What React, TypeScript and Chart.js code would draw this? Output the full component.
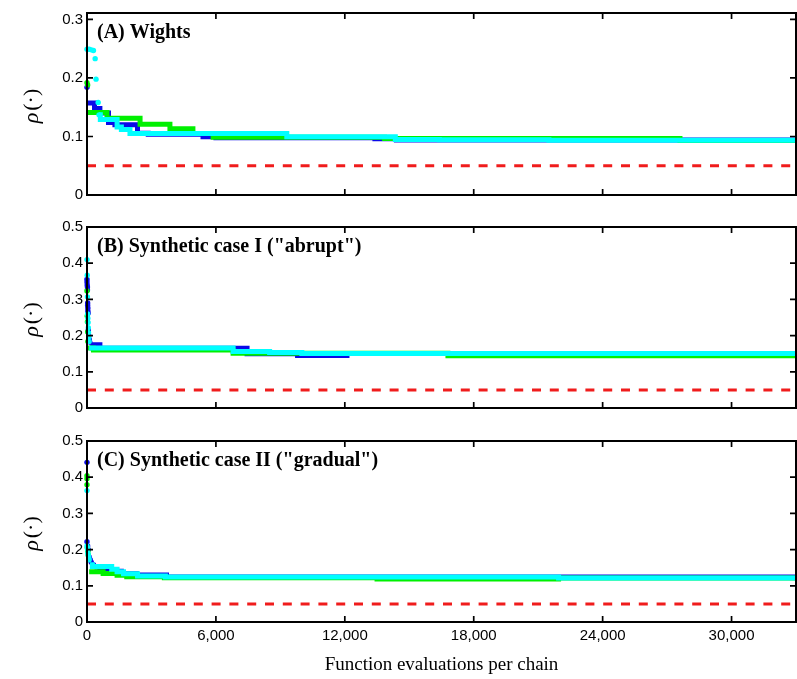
import React, { useEffect, useRef } from 'react';
import { Chart, registerables } from 'chart.js';

Chart.register(...registerables);

type P = [number, number];

// ---------- axes / labels ----------
const X_MAX = 33000;
const xTickValues = [0, 6000, 12000, 18000, 24000, 30000];
const yTicksA = [0, 0.1, 0.2, 0.3];
const yTicksBC = [0, 0.1, 0.2, 0.3, 0.4, 0.5];
const yMaxA = 0.311;
const yMaxBC = 0.5;
const panelTitles = ['(A) Wights', '(B) Synthetic case I ("abrupt")', '(C) Synthetic case II ("gradual")'];
const xAxisTitle = 'Function evaluations per chain';
const threshold = 0.05;

// ---------- Panel A (Wights) ----------
const aCyanDots: P[] = [[0, 0.249], [100, 0.249], [200, 0.248], [300, 0.247], [380, 0.233], [420, 0.198], [520, 0.158], [560, 0.137]];
const aCyanSteps: P[] = [[560, 0.137], [620, 0.129], [1400, 0.116], [1600, 0.112], [2000, 0.105], [9300, 0.0997], [14350, 0.095], [16400, 0.0945], [21500, 0.0935], [33000, 0.0935]];
const aGreenDots: P[] = [[0, 0.192], [30, 0.188]];
const aGreenSteps: P[] = [[0, 0.141], [930, 0.131], [2470, 0.121], [3860, 0.113], [4930, 0.105], [5870, 0.0985], [13850, 0.0966], [27600, 0.093], [33000, 0.093]];
const aBlueDots: P[] = [[0, 0.184]];
const aBlueSteps: P[] = [[0, 0.157], [350, 0.148], [600, 0.14], [1000, 0.124], [1300, 0.12], [2350, 0.1055], [2850, 0.104], [5400, 0.0995], [6000, 0.098], [13400, 0.0963], [14400, 0.094], [33000, 0.094]];

// ---------- Panel B (Synthetic case I) ----------
const bCyanDots: P[] = [[0, 0.41], [10, 0.367], [20, 0.307], [30, 0.26], [40, 0.248], [50, 0.236], [60, 0.222], [70, 0.208], [80, 0.196], [100, 0.184]];
const bCyanSteps: P[] = [[100, 0.166], [6800, 0.156], [8500, 0.153], [10000, 0.1505], [33000, 0.1505]];
const bGreenDots: P[] = [[0, 0.323], [10, 0.254], [20, 0.238], [30, 0.21], [40, 0.184]];
const bGreenSteps: P[] = [[50, 0.166], [300, 0.16], [6800, 0.151], [16800, 0.1445], [33000, 0.1445]];
const bBlueDots: P[] = [[0, 0.356], [0, 0.348], [10, 0.34], [20, 0.334], [20, 0.326], [30, 0.29], [30, 0.283], [40, 0.276], [40, 0.268], [50, 0.262], [60, 0.215], [80, 0.2], [100, 0.19], [130, 0.182]];
const bBlueSteps: P[] = [[150, 0.175], [600, 0.165], [7450, 0.15], [9800, 0.145], [12100, 0.1505], [33000, 0.1505]];

// ---------- Panel C (Synthetic case II) ----------
const cCyanDots: P[] = [[0, 0.363], [0, 0.21], [20, 0.205], [30, 0.2], [40, 0.19], [60, 0.184], [80, 0.178], [100, 0.172]];
const cCyanSteps: P[] = [[140, 0.158], [250, 0.153], [1150, 0.146], [1400, 0.139], [1700, 0.133], [2350, 0.127], [3650, 0.1245], [21950, 0.1215], [33000, 0.1215]];
const cGreenDots: P[] = [[0, 0.404], [0, 0.396], [0, 0.379], [20, 0.205], [40, 0.195], [60, 0.185]];
const cGreenSteps: P[] = [[100, 0.139], [750, 0.134], [1400, 0.129], [1850, 0.125], [3600, 0.1225], [13500, 0.119], [21950, 0.1215], [33000, 0.1215]];
const cBlueDots: P[] = [[0, 0.441], [0, 0.222], [30, 0.21], [60, 0.2], [100, 0.18], [150, 0.172], [200, 0.165], [300, 0.158]];
const cBlueSteps: P[] = [[350, 0.152], [600, 0.146], [1000, 0.14], [1600, 0.133], [2300, 0.13], [3700, 0.1245], [33000, 0.1245]];

const COLORS = { cyan: '#00ffff', green: '#00f000', blue: '#0a0ae8', red: 'rgb(240,28,28)' };

const toXY = (arr: P[]) => arr.map(([x, y]) => ({ x, y }));

function chainDatasets(dots: P[], steps: P[], color: string) {
  return [
    {
      data: toXY(dots),
      showLine: false,
      pointRadius: 2.7,
      pointBackgroundColor: color,
      pointBorderWidth: 0,
      borderColor: color,
      clip: false as any,
    },
    {
      data: toXY(steps),
      stepped: true,
      borderColor: color,
      borderWidth: 5,
      pointRadius: 0,
      fill: false,
      borderCapStyle: 'butt',
      borderJoinStyle: 'miter',
    },
  ];
}

const frameAndLabels = {
  id: 'frameAndLabels',
  afterDatasetsDraw(chart: any, _a: any, opts: any) {
    const { ctx, chartArea } = chart;
    const { left, right, top, bottom } = chartArea;
    const xs = chart.scales.x;
    const ys = chart.scales.y;
    ctx.save();
    ctx.strokeStyle = '#000';
    ctx.lineWidth = 1.7;
    ctx.beginPath();
    xs.ticks.forEach((t: any) => {
      const p = xs.getPixelForValue(t.value);
      if (p <= left + 1 || p >= right - 1) return;
      ctx.moveTo(p, bottom);
      ctx.lineTo(p, bottom - 6);
      ctx.moveTo(p, top);
      ctx.lineTo(p, top + 6);
    });
    ys.ticks.forEach((t: any) => {
      const p = ys.getPixelForValue(t.value);
      if (p >= bottom - 1 || p <= top + 1) return;
      ctx.moveTo(left, p);
      ctx.lineTo(left + 6, p);
      ctx.moveTo(right, p);
      ctx.lineTo(right - 6, p);
    });
    ctx.stroke();
    ctx.lineWidth = 2;
    ctx.strokeRect(left, top, right - left, bottom - top);

    // panel title
    ctx.fillStyle = '#000';
    ctx.font = 'bold 20px "Liberation Serif", "Times New Roman", serif';
    ctx.textAlign = 'left';
    ctx.textBaseline = 'middle';
    ctx.fillText(opts.title, left + 10, top + 19.5);

    // y axis label rho(.)
    ctx.translate(32, (top + bottom) / 2 + 2);
    ctx.rotate(-Math.PI / 2);
    const f1 = 'italic 22px "Liberation Serif", serif';
    const f2 = '22px "Liberation Serif", serif';
    ctx.font = f1;
    const w1 = ctx.measureText('ρ').width;
    ctx.font = f2;
    const w2 = ctx.measureText('(·)').width;
    const gap = 2;
    const x0 = -(w1 + gap + w2) / 2;
    ctx.font = f1;
    ctx.fillText('ρ', x0, 0);
    ctx.font = f2;
    ctx.fillText('(·)', x0 + w1 + gap, 0);
    ctx.restore();
  },
};

interface PanelSpec {
  title: string;
  yTicks: number[];
  yMax: number;
  cyan: [P[], P[]];
  green: [P[], P[]];
  blue: [P[], P[]];
  canvasTop: number;
  canvasHeight: number;
  padTop: number;
  padBottom: number;
  showX: boolean;
  xHeight: number;
}

const panels: PanelSpec[] = [
  { title: panelTitles[0], yTicks: yTicksA, yMax: yMaxA, cyan: [aCyanDots, aCyanSteps], green: [aGreenDots, aGreenSteps], blue: [aBlueDots, aBlueSteps], canvasTop: 0, canvasHeight: 210, padTop: 12, padBottom: 15, showX: false, xHeight: 0 },
  { title: panelTitles[1], yTicks: yTicksBC, yMax: yMaxBC, cyan: [bCyanDots, bCyanSteps], green: [bGreenDots, bGreenSteps], blue: [bBlueDots, bBlueSteps], canvasTop: 210, canvasHeight: 214, padTop: 17, padBottom: 16, showX: false, xHeight: 0 },
  { title: panelTitles[2], yTicks: yTicksBC, yMax: yMaxBC, cyan: [cCyanDots, cCyanSteps], green: [cGreenDots, cGreenSteps], blue: [cBlueDots, cBlueSteps], canvasTop: 424, canvasHeight: 255, padTop: 17, padBottom: 0, showX: true, xHeight: 57 },
];

const tickFont = { family: '"Liberation Sans", Arial, sans-serif', size: 15 };

function Panel({ spec }: { spec: PanelSpec }) {
  const ref = useRef<HTMLCanvasElement | null>(null);
  useEffect(() => {
    if (!ref.current) return;
    const datasets: any[] = [
      ...chainDatasets(spec.cyan[0], spec.cyan[1], COLORS.cyan),
      ...chainDatasets(spec.green[0], spec.green[1], COLORS.green),
      ...chainDatasets(spec.blue[0], spec.blue[1], COLORS.blue),
      {
        data: [{ x: 0, y: threshold }, { x: X_MAX, y: threshold }],
        borderColor: COLORS.red,
        borderWidth: 3,
        borderDash: [9, 8.8],
        pointRadius: 0,
        fill: false,
      },
    ];
    const chart = new Chart(ref.current, {
      type: 'line',
      data: { datasets },
      options: {
        animation: false,
        responsive: false,
        events: [],
        layout: { autoPadding: false, padding: { top: spec.padTop, right: 1, bottom: spec.padBottom, left: 0 } },
        plugins: {
          legend: { display: false },
          tooltip: { enabled: false },
          frameAndLabels: { title: spec.title },
        } as any,
        scales: {
          x: {
            type: 'linear',
            min: 0,
            max: X_MAX,
            grid: { display: false, drawTicks: false },
            border: { display: false },
            ticks: {
              display: spec.showX,
              padding: 5,
              color: '#000',
              font: tickFont,
              autoSkip: false,
              maxRotation: 0,
              callback: (v: any) => Number(v).toLocaleString('en-US'),
            },
            afterBuildTicks: (s: any) => { s.ticks = xTickValues.map((v) => ({ value: v })); },
            afterFit: (s: any) => { s.height = spec.xHeight; },
            title: {
              display: spec.showX,
              text: xAxisTitle,
              color: '#000',
              font: { family: '"Liberation Serif", "Times New Roman", serif', size: 19 },
              padding: { top: 0, bottom: 3 },
            },
          },
          y: {
            type: 'linear',
            min: 0,
            max: spec.yMax,
            grid: { display: false, drawTicks: false },
            border: { display: false },
            ticks: {
              padding: 4,
              color: '#000',
              font: tickFont,
              includeBounds: false,
              callback: (v: any) => (Number(v) === 0 ? '0' : Number(v).toFixed(1)),
            },
            afterBuildTicks: (s: any) => { s.ticks = spec.yTicks.map((v) => ({ value: v })); },
            afterFit: (s: any) => { s.width = 87; },
          },
        } as any,
      },
      plugins: [frameAndLabels],
    } as any);
    return () => chart.destroy();
  }, [spec]);
  return (
    <canvas
      ref={ref}
      width={797}
      height={spec.canvasHeight}
      style={{ position: 'absolute', left: 0, top: spec.canvasTop, width: 797, height: spec.canvasHeight, display: 'block' }}
    />
  );
}

export default function App() {
  return (
    <div style={{ position: 'absolute', left: 0, top: 0, width: 797, height: 679, background: '#fff', overflow: 'hidden' }}>
      {panels.map((p, i) => (
        <Panel key={i} spec={p} />
      ))}
    </div>
  );
}
